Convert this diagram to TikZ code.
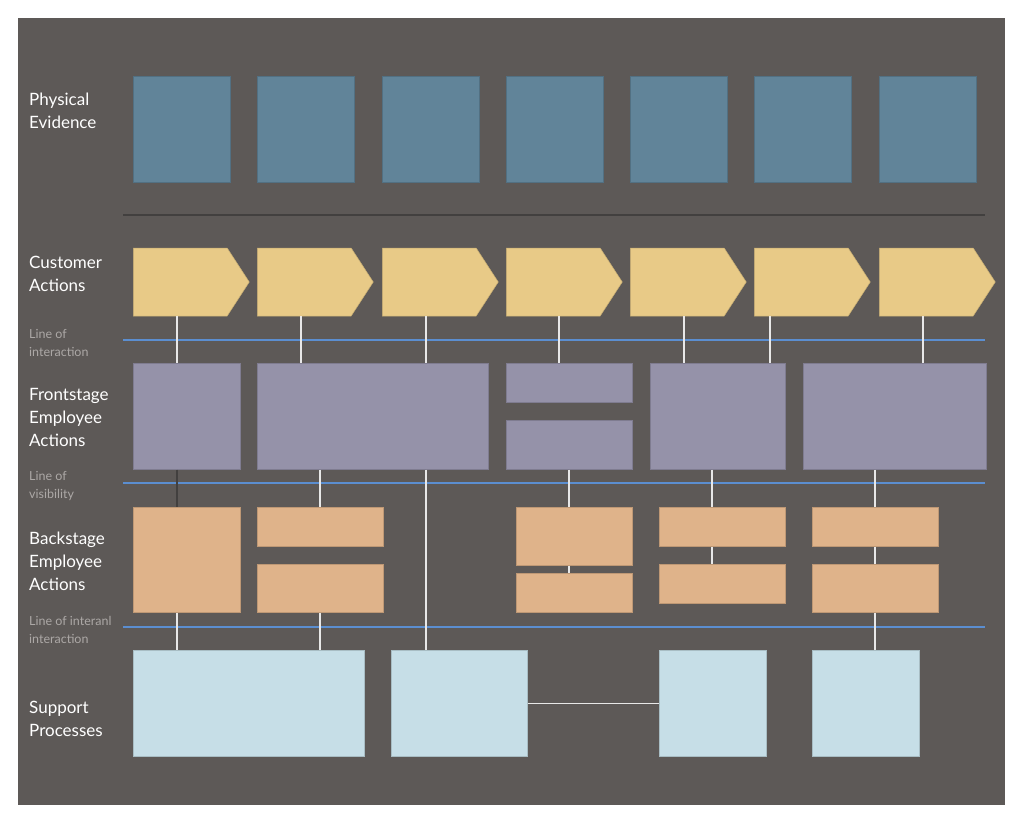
\documentclass[tikz,border=0pt]{standalone}
\usepackage{fontspec}
\setmainfont{Lato}
\definecolor{canvas}{RGB}{93, 89, 87}
\definecolor{evidblue}{RGB}{97, 132, 153}
\definecolor{custyellow}{RGB}{232, 202, 135}
\definecolor{frontviolet}{RGB}{149, 146, 169}
\definecolor{backorange}{RGB}{223, 179, 138}
\definecolor{suppblue}{RGB}{198, 222, 231}
\definecolor{laneblue}{RGB}{91, 142, 208}
\definecolor{linkwhite}{RGB}{232, 232, 232}
\definecolor{notegray}{RGB}{172, 168, 166}
\definecolor{sepgray}{RGB}{66, 64, 63}
\usetikzlibrary{shapes.symbols}

\begin{document}
\begin{tikzpicture}[x=1pt, y=-1pt,
  box/.style={anchor=north west, inner sep=0pt, line width=0.5pt},
  evid/.style={box, fill=evidblue, draw=evidblue!85!black, minimum width=97pt, minimum height=106pt},
  cust/.style={shape=signal, signal to=east, signal pointer angle=114, anchor=west, inner sep=0pt,
    fill=custyellow, draw=custyellow!85!black, line width=0.5pt, minimum width=116pt, minimum height=68pt},
  front/.style={box, fill=frontviolet, draw=frontviolet!85!black},
  back/.style={box, fill=backorange, draw=backorange!85!black},
  supp/.style={box, fill=suppblue, draw=suppblue!85!black, minimum height=106pt},
  lanename/.style={anchor=west, align=left, inner sep=0pt, text=white, font=\fontsize{17}{23}\selectfont},
  linenote/.style={anchor=west, align=left, inner sep=0pt, text=notegray, font=\fontsize{12.5}{18}\selectfont},
  laneline/.style={draw=laneblue, line width=2pt},
  link/.style={draw=linkwhite, line width=1.5pt}]

  % Canvas
  \useasboundingbox[fill=white] (0,0) rectangle (1024,823);
  \fill[canvas] (18,18) rectangle (1005,805);

  % Lane names
  \node[lanename] (evidname) at (29,110.5) {Physical\\Evidence};
  \node[lanename] (custname) at (29,273.5) {Customer\\Actions};
  \node[lanename] (frontname) at (29,417) {Frontstage\\Employee\\Actions};
  \node[lanename] (backname) at (29,561) {Backstage\\Employee\\Actions};
  \node[lanename] (suppname) at (29,718.5) {Support\\Processes};

  \node[linenote] (interactnote) at (29,343) {Line of\\interaction};
  \node[linenote] (visibnote) at (29,486) {Line of\\visibility};
  \node[linenote] (internnote) at (29,630) {Line of interanl\\interaction};

  % Separator and lane lines
  \draw[sepgray, line width=2pt] (123,215) -- (985,215);
  \draw[laneline] (123,340) -- (985,340);
  \draw[laneline] (123,483) -- (985,483);
  \draw[laneline] (123,627) -- (985,627);

  % Physical evidence
  \node[evid] (evid1) at (133,76) {};
  \node[evid] (evid2) at (257,76) {};
  \node[evid] (evid3) at (382,76) {};
  \node[evid] (evid4) at (506,76) {};
  \node[evid] (evid5) at (630,76) {};
  \node[evid] (evid6) at (754,76) {};
  \node[evid] (evid7) at (879,76) {};

  % Customer actions
  \node[cust] (cust1) at (133,282) {};
  \node[cust] (cust2) at (257,282) {};
  \node[cust] (cust3) at (382,282) {};
  \node[cust] (cust4) at (506,282) {};
  \node[cust] (cust5) at (630,282) {};
  \node[cust] (cust6) at (754,282) {};
  \node[cust] (cust7) at (879,282) {};

  % Frontstage employee actions
  \node[front, minimum width=107pt, minimum height=106pt] (front1) at (133,363) {};
  \node[front, minimum width=231pt, minimum height=106pt] (front2) at (257,363) {};
  \node[front, minimum width=126pt, minimum height=39pt] (front3a) at (506,363) {};
  \node[front, minimum width=126pt, minimum height=49pt] (front3b) at (506,420) {};
  \node[front, minimum width=135pt, minimum height=106pt] (front4) at (650,363) {};
  \node[front, minimum width=183pt, minimum height=106pt] (front5) at (803,363) {};

  % Backstage employee actions
  \node[back, minimum width=107pt, minimum height=105pt] (back1) at (133,507) {};
  \node[back, minimum width=126pt, minimum height=39pt] (back2a) at (257,507) {};
  \node[back, minimum width=126pt, minimum height=48pt] (back2b) at (257,564) {};
  \node[back, minimum width=116pt, minimum height=58pt] (back3a) at (516,507) {};
  \node[back, minimum width=116pt, minimum height=39pt] (back3b) at (516,573) {};
  \node[back, minimum width=126pt, minimum height=39pt] (back4a) at (659,507) {};
  \node[back, minimum width=126pt, minimum height=39pt] (back4b) at (659,564) {};
  \node[back, minimum width=126pt, minimum height=39pt] (back5a) at (812,507) {};
  \node[back, minimum width=126pt, minimum height=48pt] (back5b) at (812,564) {};

  % Support processes
  \node[supp, minimum width=231pt] (supp1) at (133,650) {};
  \node[supp, minimum width=136pt] (supp2) at (391,650) {};
  \node[supp, minimum width=107pt] (supp3) at (659,650) {};
  \node[supp, minimum width=107pt] (supp4) at (812,650) {};

  % Customer -> frontstage
  \draw[link] ([xshift=44pt]front1.north west) -- ([xshift=44pt]front1.north west |- cust1.south);
  \draw[link] ([xshift=44pt]front2.north west) -- ([xshift=44pt]front2.north west |- cust2.south);
  \draw[link] ([xshift=169pt]front2.north west) -- ([xshift=169pt]front2.north west |- cust3.south);
  \draw[link] ([xshift=53pt]front3a.north west) -- ([xshift=53pt]front3a.north west |- cust4.south);
  \draw[link] ([xshift=34pt]front4.north west) -- ([xshift=34pt]front4.north west |- cust5.south);
  \draw[link] ([xshift=120pt]front4.north west) -- ([xshift=120pt]front4.north west |- cust6.south);
  \draw[link] ([xshift=120pt]front5.north west) -- ([xshift=120pt]front5.north west |- cust7.south);

  % Frontstage -> backstage
  \draw[sepgray, line width=1.5pt] ([xshift=44pt]front1.south west) -- ([xshift=44pt]front1.south west |- back1.north);
  \draw[link] ([xshift=63pt]front2.south west) -- ([xshift=63pt]front2.south west |- back2a.north);
  \draw[link] ([xshift=169pt]front2.south west) -- ([xshift=169pt]front2.south west |- supp2.north);
  \draw[link] ([xshift=63pt]front3b.south west) -- ([xshift=63pt]front3b.south west |- back3a.north);
  \draw[link] ([xshift=62pt]front4.south west) -- ([xshift=62pt]front4.south west |- back4a.north);
  \draw[link] ([xshift=72pt]front5.south west) -- ([xshift=72pt]front5.south west |- back5a.north);

  % Backstage steps
  \draw[link] ([xshift=53pt]back3a.south west) -- ([xshift=53pt]back3a.south west |- back3b.north);
  \draw[link] ([xshift=53pt]back4a.south west) -- ([xshift=53pt]back4a.south west |- back4b.north);
  \draw[link] ([xshift=63pt]back5a.south west) -- ([xshift=63pt]back5a.south west |- back5b.north);

  % Backstage -> support
  \draw[link] ([xshift=44pt]back1.south west) -- ([xshift=44pt]back1.south west |- supp1.north);
  \draw[link] ([xshift=63pt]back2b.south west) -- ([xshift=63pt]back2b.south west |- supp1.north);
  \draw[link] ([xshift=63pt]back5b.south west) -- ([xshift=63pt]back5b.south west |- supp4.north);
  \draw[link] (supp2) -- (supp3);
\end{tikzpicture}
\end{document}
